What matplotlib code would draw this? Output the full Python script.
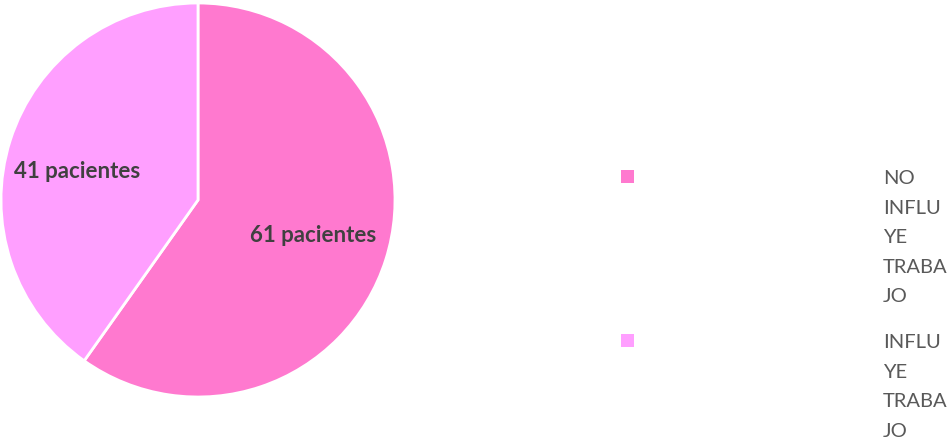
import matplotlib.pyplot as plt
from matplotlib.patches import Rectangle

categorias = ['NO\nINFLU\nYE\nTRABA\nJO', 'INFLU\nYE\nTRABA\nJO']
pacientes = [61, 41]
colores = ['#FF79CF', '#FF9FFF']

W, H = 948, 439
fig = plt.figure(figsize=(W / 100, H / 100), dpi=100)
plt.rcParams['font.family'] = ['Lato', 'DejaVu Sans']

# pie centred at (198, 201) px with radius 197
cx, cy, r = 198, 201, 197
ax = fig.add_axes([(cx - r) / W, (H - cy - r) / H, 2 * r / W, 2 * r / H])
wedges, texts, autotexts = ax.pie(
    pacientes, colors=colores, startangle=90, counterclock=False,
    radius=1, autopct=lambda p: '%d pacientes' % round(p * sum(pacientes) / 100),
    pctdistance=0.62,
    wedgeprops=dict(edgecolor='white', linewidth=2),
    textprops=dict(color='#404040', fontsize=16, fontweight='bold'))
# excel-style label placement
autotexts[0].set_position((0.585, -0.175))
autotexts[1].set_position((-0.615, 0.15))
ax.set_xlim(-1, 1)
ax.set_ylim(-1, 1)
ax.set_aspect('equal')
ax.axis('off')

# legend drawn by hand: square aligned with the first line of wrapped text
tops = [168, 332]
for w, cat, top in zip(wedges, categorias, tops):
    fig.patches.append(Rectangle((621 / W, 1 - (top + 16) / H), 13 / W, 13 / H,
                                 transform=fig.transFigure,
                                 facecolor=w.get_facecolor(), edgecolor='none'))
    fig.text(883 / W, 1 - (top + 2) / H, cat, ha='left', va='top',
             fontsize=14.5, color='#595959', linespacing=1.9)

fig.savefig('out.png', dpi=100)
